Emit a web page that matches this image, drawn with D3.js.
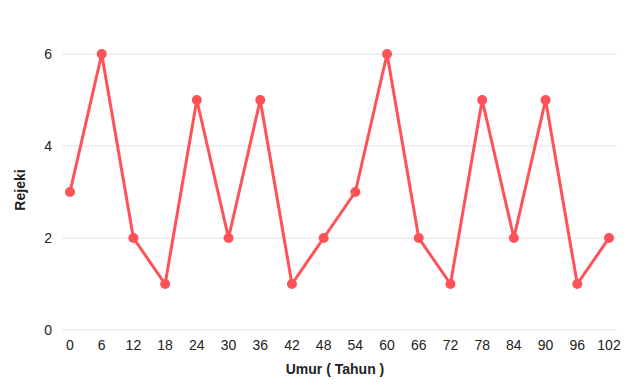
<!DOCTYPE html>
<html>
<head>
<meta charset="utf-8">
<script src="https://cdn.jsdelivr.net/npm/d3@7"></script>
<style>
  body { margin: 0; background: #fff; }
  svg { font-family: "Liberation Sans", Arial, sans-serif; }
</style>
</head>
<body>
<div id="chart"></div>
<script>
const ages = [0, 6, 12, 18, 24, 30, 36, 42, 48, 54, 60, 66, 72, 78, 84, 90, 96, 102];
const rejeki = [3, 6, 2, 1, 5, 2, 5, 1, 2, 3, 6, 2, 1, 5, 2, 5, 1, 2];
const yTicks = [0, 2, 4, 6];

const width = 640;
const height = 389;
const lineColor = '#ff5257';

const svg = d3.select('#chart')
  .append('svg')
  .attr('width', width)
  .attr('height', height);

const xScale = d3.scalePoint()
  .domain(ages)
  .range([70, 609]);

const yScale = d3.scaleLinear()
  .domain([0, 6])
  .range([330, 54]);

// gridlines
svg.append('g')
  .selectAll('line')
  .data(yTicks)
  .join('line')
  .attr('x1', 62)
  .attr('x2', 617)
  .attr('y1', d => yScale(d))
  .attr('y2', d => yScale(d))
  .attr('stroke', '#e3e3e3')
  .attr('stroke-width', 1);

// y tick labels
svg.append('g')
  .selectAll('text')
  .data(yTicks)
  .join('text')
  .attr('x', 52)
  .attr('y', d => yScale(d))
  .attr('dy', '0.35em')
  .attr('text-anchor', 'end')
  .attr('font-size', 14)
  .attr('fill', '#222')
  .text(d => d);

// x tick labels
svg.append('g')
  .selectAll('text')
  .data(ages)
  .join('text')
  .attr('x', d => xScale(d))
  .attr('y', 350)
  .attr('text-anchor', 'middle')
  .attr('font-size', 14)
  .attr('fill', '#222')
  .text(d => d);

// axis titles
svg.append('text')
  .attr('x', 335)
  .attr('y', 374)
  .attr('text-anchor', 'middle')
  .attr('font-size', 14)
  .attr('font-weight', 'bold')
  .attr('fill', '#222')
  .text('Umur ( Tahun )');

svg.append('text')
  .attr('transform', `translate(25, 190) rotate(-90)`)
  .attr('text-anchor', 'middle')
  .attr('font-size', 14)
  .attr('font-weight', 'bold')
  .attr('fill', '#222')
  .text('Rejeki');

const points = ages.map((a, i) => ({ age: a, value: rejeki[i] }));

const line = d3.line()
  .x(d => xScale(d.age))
  .y(d => yScale(d.value));

svg.append('path')
  .datum(points)
  .attr('d', line)
  .attr('fill', 'none')
  .attr('stroke', lineColor)
  .attr('stroke-width', 3)
  .attr('stroke-linejoin', 'round');

svg.append('g')
  .selectAll('circle')
  .data(points)
  .join('circle')
  .attr('cx', d => xScale(d.age))
  .attr('cy', d => yScale(d.value))
  .attr('r', 5)
  .attr('fill', lineColor);
</script>
</body>
</html>
